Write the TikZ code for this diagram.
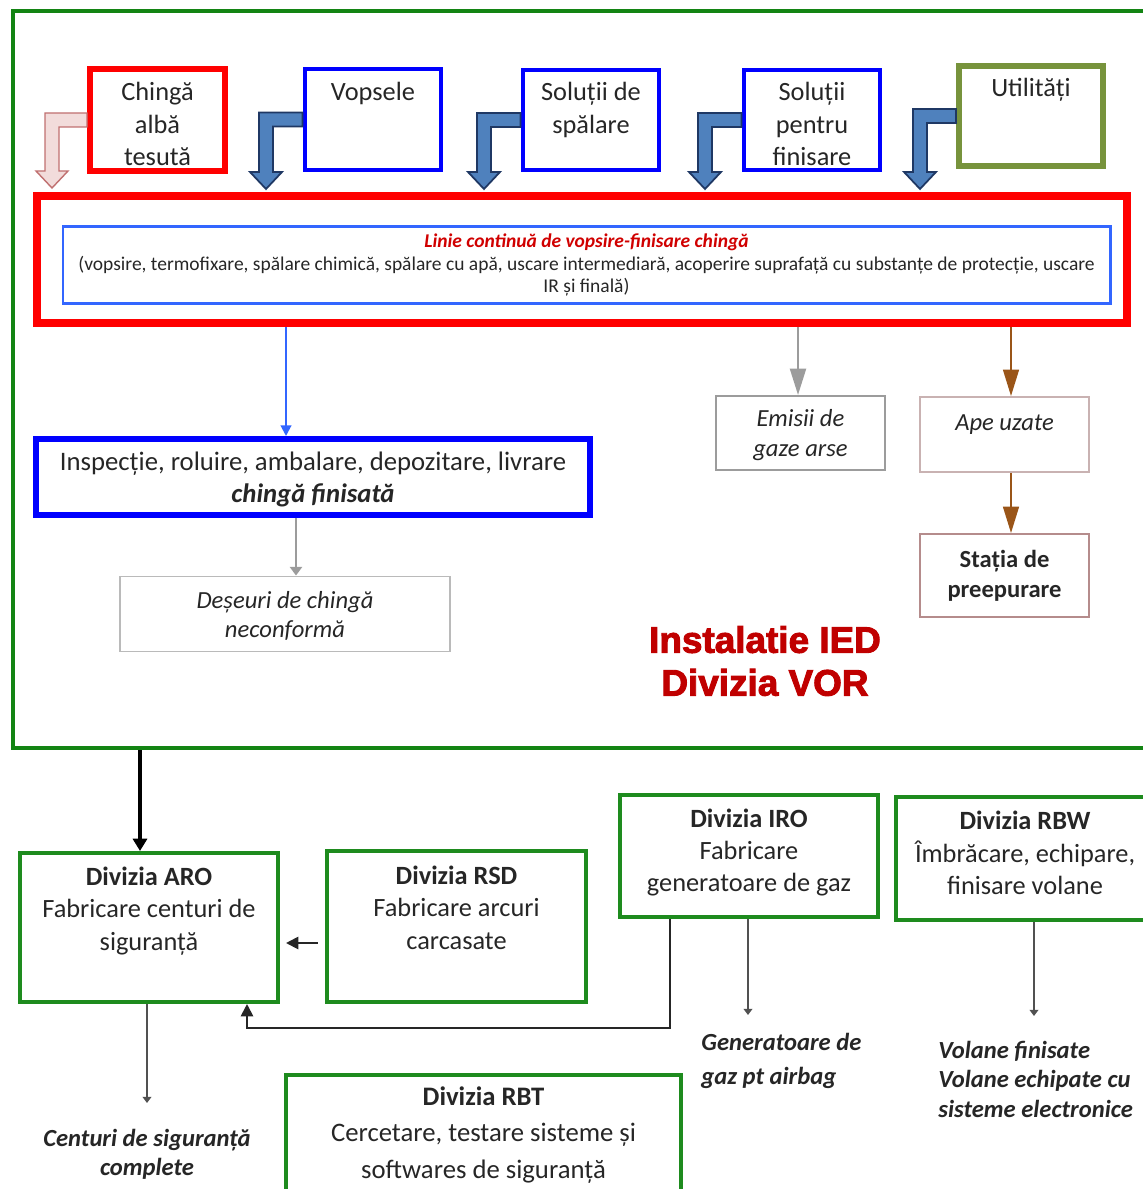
\documentclass[tikz,border=0pt]{standalone}
\usepackage{fontspec}
\setmainfont{Carlito}
\newfontfamily\heavyfont{Liberation Sans Bold}[FakeBold=2.5]
\usetikzlibrary{arrows.meta,positioning,calc}
\definecolor{Rc}{HTML}{FF0000}
\definecolor{Bc}{HTML}{0000FF}
\definecolor{Lc}{HTML}{3366FF}
\definecolor{Oc}{HTML}{77933C}
\definecolor{Vc}{HTML}{138413}
\definecolor{Dc}{HTML}{1E8B1E}
\definecolor{Gc}{HTML}{9C9C9C}
\definecolor{Mc}{HTML}{9A5518}
\definecolor{Ec}{HTML}{C9B2B2}
\definecolor{Sc}{HTML}{B58C8C}
\definecolor{Tc}{HTML}{D00000}
\definecolor{Ic}{HTML}{C00000}
\definecolor{Kc}{HTML}{262626}
\definecolor{elbF}{HTML}{4F81BD}
\definecolor{elbD}{HTML}{1F3864}
\definecolor{pnkF}{HTML}{F2DCDB}
\definecolor{pnkD}{HTML}{C07070}
\newcommand{\fmain}{\fontsize{15}{18.4}\selectfont}
\newcommand{\fout}{\fontsize{14}{16.7}\selectfont\bfseries\itshape}
\tikzset{
  sz/.style 2 args={minimum width=#1*0.02cm, minimum height=#2*0.02cm},
  bx/.style={rectangle, align=center, inner sep=0pt, text=Kc, font=\fmain},
  Rbox/.style={bx, draw=Rc, line width=3.4pt},
  Bbox/.style={bx, draw=Bc, line width=2.8pt},
  Obox/.style={bx, draw=Oc, line width=3.4pt},
  Dbox/.style={bx, draw=Dc, line width=2.3pt},
  Pbox/.style={bx, line width=1.1pt},
  outtxt/.style={inner sep=0pt, text=Kc, font=\fout},
  bluearr/.style={fill=elbF, draw=elbD, line width=1pt, line join=miter},
  pinkarr/.style={fill=pnkF, draw=pnkD, line width=0.8pt, line join=miter},
  Barr/.style={draw=Lc, line width=1.1pt, -{Triangle[length=6pt, width=6pt]}},
  Garr/.style={draw=Gc, line width=1.5pt, -{Triangle[length=5pt, width=7pt]}},
  Gbig/.style={draw=Gc, line width=1.5pt, -{Triangle[length=15pt, width=9pt]}},
  Mbig/.style={draw=Mc, line width=1.1pt, -{Triangle[length=15pt, width=9pt]}},
  Kthick/.style={draw=black, line width=2.8pt, -{Triangle[length=7pt, width=8pt]}},
  Kmid/.style={draw=Kc, line width=1.1pt, -{Triangle[length=7pt, width=7pt]}},
  Kthin/.style={draw=Kc!80, line width=0.8pt, -{Triangle[length=3.5pt, width=5pt]}},
}
% elbow block arrow: source box, tip coordinate, style
\newcommand{\elbow}[3]{%
  \filldraw[#3] ($(#1.west)+(0,-7)$) -- ($(#2|-#1.west)+(-7,-7)$) -- ($(#2)+(-7,-17)$)
    -- ($(#2)+(-16,-17)$) -- (#2) -- ($(#2)+(16,-17)$) -- ($(#2)+(7,-17)$)
    -- ($(#2|-#1.west)+(7,7)$) -- ($(#1.west)+(0,7)$) -- cycle;}

\begin{document}
\begin{tikzpicture}[x=0.02cm, y=-0.02cm]
  \useasboundingbox (0,0) rectangle (1142,1189);
  % instalatia IED
  \node[draw=Vc, line width=2.3pt, sz={1160}{737}, anchor=north west] (vor) at (11,9) {};
  \coordinate (tA) at (52,188);
  \coordinate (tV) at (266,189);
  \coordinate (tS) at (484,189);
  \coordinate (tF) at (705,189);
  \coordinate (tU) at (920,189);
  \node[Rbox, sz={135}{102}] (alba) at (157.5,120) {\rule{0pt}{15pt}Chingă\\albă\\tesută};
  \node[Bbox, sz={136}{101}] (vops) at (373,119.5) {\rule{0pt}{15pt}Vopsele\\~\\~};
  \node[Bbox, sz={136}{100}] (spal) at (591,120) {\rule{0pt}{15pt}Soluții de\\spălare\\~};
  \node[Bbox, sz={136}{100}] (fini) at (812,120) {\rule{0pt}{15pt}Soluții\\pentru\\finisare};
  \node[Obox, sz={144}{100}] (util) at (1031,116) {\rule{0pt}{15pt}Utilități\\~\\~};
  \elbow{alba}{tA}{pinkarr}
  \elbow{vops}{tV}{bluearr}
  \elbow{spal}{tS}{bluearr}
  \elbow{fini}{tF}{bluearr}
  \elbow{util}{tU}{bluearr}
  \node[draw=Rc, line width=4.5pt, sz={1090}{127}] (frame) at (582,259.5) {};
  \node[bx, draw=Lc, line width=1.7pt, sz={1047}{77}, font=\fontsize{11.1}{13}\selectfont]
    (linie) at (586.5,265) {{\color{Tc}\bfseries\itshape Linie continuă de vopsire-finisare chingă}\\
    (vopsire, termofixare, spălare chimică, spălare cu apă, uscare intermediară, acoperire suprafață cu substanțe de protecție, uscare\\
    IR și finală)};
  \node[bx, draw=Bc, line width=3.4pt, sz={554}{76}, font=\fontsize{15.2}{18.3}\selectfont]
    (insp) at (313,477) {\rule{0pt}{13pt}Inspecție, roluire, ambalare, depozitare, livrare\\{\bfseries\itshape chingă finisată}};
  \node[Pbox, draw=Gc!70, sz={330}{75}, font=\fontsize{14}{16.5}\selectfont\itshape] (des) at (285,614) {\rule{0pt}{12pt}Deșeuri de chingă\\neconformă};
  \node[Pbox, draw=Gc, sz={169}{74}, font=\fontsize{14}{17}\selectfont\itshape] (emi) at (800.5,433) {\rule{0pt}{12pt}Emisii de\\gaze arse};
  \node[Pbox, draw=Ec, sz={169}{75}, font=\fontsize{14}{17}\selectfont\itshape] (ape) at (1004.5,434.5) {\rule{0pt}{12pt}Ape uzate\\~};
  \node[Pbox, draw=Sc, sz={169}{83}, font=\fontsize{14}{17}\selectfont\bfseries] (sta) at (1004.5,575.5) {Stația de\\preepurare};
  \node[text=Ic, align=center, font=\heavyfont\fontsize{21}{24.4}\selectfont] (ied) at (765,661) {Instalatie IED\\Divizia VOR};
  \draw[Barr] (frame.south -| 286,0) -- (insp.north -| 286,0);
  \draw[Garr] (insp.south -| 296,0) -- (des.north -| 296,0);
  \draw[Gbig] (frame.south -| 798,0) -- (emi.north -| 798,0);
  \draw[Mbig] (frame.south -| 1011,0) -- (ape.north -| 1011,0);
  \draw[Mbig] (ape.south -| 1011,0) -- (sta.north -| 1011,0);
  % celelalte divizii
  \node[Dbox, sz={258}{149}] (aro) at (149,927.5) {\bfseries Divizia ARO\\Fabricare centuri de\\siguranță\\[3pt]~};
  \node[Dbox, sz={259}{151}] (rsd) at (456.5,926.5) {\bfseries Divizia RSD\\Fabricare arcuri\\carcasate\\[3pt]~};
  \node[Dbox, sz={258}{122}] (iro) at (749,856) {\bfseries Divizia IRO\\Fabricare\\generatoare de gaz\\[-12pt]~};
  \node[Dbox, sz={258}{123}, anchor=west] (rbw) at (894,858.5) {\bfseries Divizia RBW\\Îmbrăcare, echipare,\\finisare volane\\[-12pt]~};
  \node[Dbox, line width=2.8pt, sz={395}{120}, font=\fontsize{15.2}{21}\selectfont] (rbt) at (483.5,1135) {\bfseries Divizia RBT\\Cercetare, testare sisteme și\\softwares de siguranță};
  \draw[Kthick] (vor.south -| 140,0) -- (aro.north -| 140,0);
  \draw[Kmid] ($(rsd.west |- 0,943)+(-7,0)$) -- ($(aro.east |- 0,943)+(6,0)$);
  \draw[Kmid] (iro.south -| 670,0) |- (247,1028) -- (aro.south -| 247,0);
  \coordinate (genend) at (748,1015);
  \coordinate (volend) at (1034,1016);
  \coordinate (centend) at (147,1103);
  \draw[Kthin] (iro.south -| genend) -- (genend);
  \draw[Kthin] (rbw.south -| volend) -- (volend);
  \draw[Kthin] (aro.south -| centend) -- (centend);
  \node[outtxt, align=left, anchor=north west, font=\fout\fontsize{14}{19.3}\selectfont] (gen) at (701,1033) {Generatoare de\\gaz pt airbag};
  \node[outtxt, align=left, anchor=north west] (vol) at (938,1041) {Volane finisate\\Volane echipate cu\\sisteme electronice};
  \node[outtxt, align=center, anchor=north] (cent) at (147,1129) {Centuri de siguranță\\complete};
\end{tikzpicture}
\end{document}
